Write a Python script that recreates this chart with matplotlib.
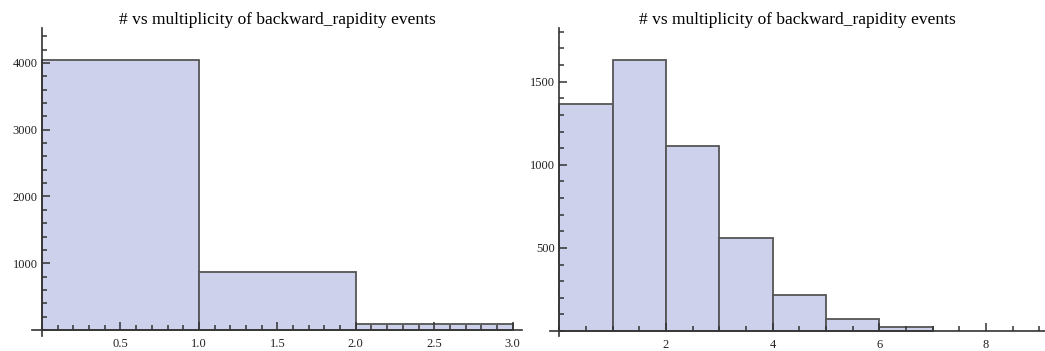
import numpy as np
import matplotlib.pyplot as plt
from matplotlib.ticker import MultipleLocator

# multiplicity histograms, bin edges and counts
left_edges = [0, 1, 2, 3]
left_counts = [4040, 870, 95]

right_edges = [0, 1, 2, 3, 4, 5, 6, 7]
right_counts = [1365, 1632, 1112, 557, 217, 74, 26]

title = "# vs multiplicity of backward_rapidity events"

plt.rcParams['font.family'] = ['Liberation Serif', 'DejaVu Serif']

fill = '#cdd1eb'
edge = '#555555'
axis_col = '#333333'


def histPanel(ax, edges, counts, xlim, ylim, xmaj, xmin, ymaj, ymin, xfmt):
    edges = np.array(edges)
    ax.bar(edges[:-1], counts, width=np.diff(edges), align='edge',
           color=fill, edgecolor=edge, linewidth=1.3)
    ax.set_axisbelow(False)
    ax.set_xlim(xlim)
    ax.set_ylim(ylim)
    for s in ['top', 'right']:
        ax.spines[s].set_visible(False)
    ax.spines['left'].set_position(('data', 0))
    ax.spines['bottom'].set_position(('data', 0))
    for s in ['left', 'bottom']:
        ax.spines[s].set_color(axis_col)
        ax.spines[s].set_linewidth(1.2)
    ax.xaxis.set_major_locator(MultipleLocator(xmaj))
    ax.xaxis.set_minor_locator(MultipleLocator(xmin))
    ax.yaxis.set_major_locator(MultipleLocator(ymaj))
    ax.yaxis.set_minor_locator(MultipleLocator(ymin))
    ax.set_xticks([t for t in ax.get_xticks() if t > 0 and t <= xlim[1]])
    ax.set_yticks([t for t in ax.get_yticks() if t > 0 and t <= ylim[1]])
    ax.xaxis.set_major_formatter(xfmt)
    ax.tick_params(which='both', direction='in', color=axis_col,
                   labelsize=9, labelcolor='#222222')
    ax.tick_params(axis='x', which='major', length=6, width=1.1, pad=6)
    ax.tick_params(axis='y', which='major', length=6, width=1.1, pad=3)
    ax.tick_params(which='minor', length=3.5, width=1.1)
    ax.set_title(title, fontsize=12.5, pad=1)


fig = plt.figure(figsize=(10.45, 3.51), dpi=100)
ax1 = fig.add_axes([0.0306, 0.0427, 0.469, 0.877])
ax2 = fig.add_axes([0.526, 0.0427, 0.4737, 0.877])

histPanel(ax1, left_edges, left_counts, (-0.064, 3.06), (-90, 4520),
          0.5, 0.1, 1000, 200, '{x:.1f}')
histPanel(ax2, right_edges, right_counts, (-0.18, 9.1), (-30, 1822),
          2, 0.5, 500, 100, '{x:.0f}')

fig.savefig('out.png', dpi=100)
